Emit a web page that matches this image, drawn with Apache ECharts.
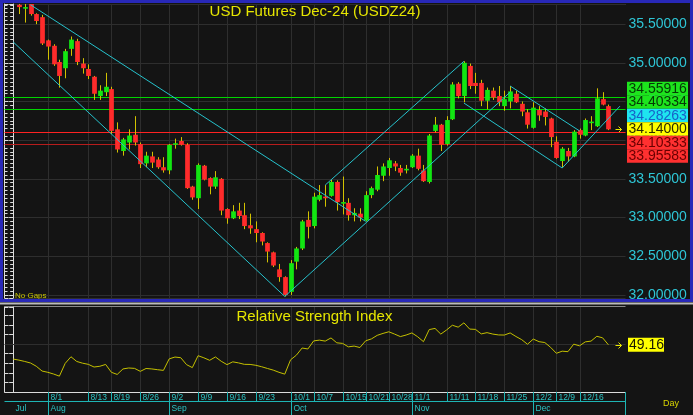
<!DOCTYPE html>
<html>
<head>
<meta charset="utf-8">
<title>USD Futures Dec-24 (USDZ24)</title>
<script src="https://cdn.jsdelivr.net/npm/echarts@6.0.0/dist/echarts.min.js"></script>
<style>
html,body{margin:0;padding:0;background:#141414;overflow:hidden;}
#chart{width:693px;height:415px;}
</style>
</head>
<body>
<div id="chart"></div>
<script>
// ---------------- DATA ----------------
// daily bars 1..103 (bar 0 lies above the visible range)
const opens = [
35.75,35.715,35.76,35.63,35.59,35.29,35.22,35.01,34.93,35.18,
35.28,34.99,34.92,34.82,34.57,34.62,34.66,34.14,33.86,33.97,
34.07,33.95,33.70,33.79,33.75,33.65,33.61,33.95,33.99,33.94,
33.40,33.25,33.67,33.51,33.40,33.50,33.11,32.99,33.09,33.03,
32.90,32.85,32.80,32.67,32.55,32.33,32.23,32.04,32.43,32.60,
32.97,32.89,33.23,33.27,33.28,33.46,33.19,33.19,33.03,33.05,
32.96,33.29,33.36,33.54,33.64,33.70,33.64,33.62,33.65,33.80,
33.61,33.46,34.12,34.20,33.95,34.27,34.73,34.57,34.96,34.74,
34.74,34.51,34.64,34.57,34.44,34.50,34.60,34.47,34.36,34.16,
34.39,34.37,34.28,33.98,33.73,33.86,33.79,34.13,34.06,34.23,
34.18,34.53,34.44];
const closes = [
35.72,35.72,35.63,35.54,35.25,35.21,34.98,34.83,35.15,35.30,
35.01,34.93,34.83,34.60,34.64,34.69,34.12,33.88,34.01,34.06,
33.97,33.69,33.80,33.71,33.65,33.61,33.94,33.96,33.94,33.38,
33.26,33.68,33.49,33.40,33.52,33.09,32.99,33.08,33.02,32.89,
32.86,32.80,32.69,32.56,32.38,32.23,32.00,32.41,32.60,32.95,
32.88,33.27,33.29,33.25,33.46,33.20,33.20,33.03,33.06,33.00,
33.29,33.38,33.55,33.66,33.74,33.66,33.58,33.63,33.80,33.63,
33.47,34.06,34.20,33.94,34.26,34.72,34.57,35.00,34.70,34.70,
34.51,34.65,34.55,34.49,34.53,34.63,34.49,34.37,34.20,34.42,
34.32,34.30,34.04,33.77,33.89,33.79,34.11,34.07,34.26,34.24,
34.54,34.46,34.14];
const highs = [
35.76,35.76,35.76,35.64,35.62,35.30,35.24,35.04,35.18,35.34,
35.31,35.06,34.98,34.83,34.71,34.87,34.69,34.23,34.03,34.14,
34.31,33.97,33.85,33.85,33.78,33.78,33.95,34.02,34.04,33.96,
33.41,33.70,33.68,33.52,33.60,33.51,33.12,33.16,33.19,33.19,
33.05,32.95,32.81,32.68,32.56,32.40,32.24,32.45,32.62,32.97,
33.08,33.32,33.42,33.42,33.49,33.48,33.53,33.25,33.12,33.12,
33.34,33.40,33.66,33.70,33.77,33.73,33.68,33.68,33.82,33.89,
33.68,34.08,34.30,34.21,34.31,34.75,34.75,35.02,34.99,34.87,
34.78,34.68,34.68,34.70,34.64,34.70,34.64,34.50,34.40,34.49,
34.44,34.41,34.29,34.05,33.91,33.90,34.13,34.15,34.28,34.31,
34.67,34.62,34.46];
const lows = [
35.63,35.52,35.61,35.50,35.23,35.04,34.96,34.68,34.80,35.09,
34.97,34.86,34.79,34.52,34.52,34.57,34.08,33.84,33.80,33.88,
33.93,33.64,33.65,33.64,33.63,33.58,33.56,33.89,33.93,33.37,
33.23,33.11,33.48,33.30,33.37,33.03,32.92,32.98,32.98,32.85,
32.79,32.68,32.64,32.42,32.36,32.17,31.98,32.00,32.33,32.58,
32.73,32.86,33.21,33.14,33.27,33.09,33.04,32.96,32.95,32.95,
32.95,33.25,33.34,33.47,33.54,33.60,33.54,33.57,33.64,33.61,
33.46,33.44,34.10,33.86,33.93,34.26,34.54,34.49,34.66,34.60,
34.44,34.40,34.52,34.44,34.38,34.41,34.48,34.31,34.15,34.15,
34.25,34.19,33.91,33.76,33.65,33.72,33.78,34.02,34.05,34.13,
34.17,34.45,34.13];
// RSI for bars 0..103
const rsiValues = [
34.3,33.2,31.8,30.2,26.8,21.8,20.5,18.7,16.5,29.8,
36.7,31.8,30.0,28.8,26.0,26.8,28.7,20.5,18.3,24.0,
25.0,24.6,21.5,24.5,24.0,23.2,22.5,34.5,36.4,35.7,
28.5,25.4,37.8,35.6,33.0,36.5,32.0,28.5,31.4,30.3,
28.8,28.7,27.8,26.3,24.5,22.8,20.5,18.6,33.5,38.3,
45.8,44.8,53.2,54.0,53.0,56.3,51.2,50.6,47.0,47.8,
46.3,53.3,55.3,59.0,61.0,62.7,60.3,57.7,59.3,61.5,
57.5,52.4,65.0,66.2,60.3,64.6,69.5,67.5,72.0,65.5,
65.2,60.5,61.8,60.3,59.4,59.3,61.5,57.8,54.5,49.7,
55.1,52.4,51.5,46.5,40.3,42.5,42.0,49.8,48.1,52.2,
53.0,58.0,56.4,49.16];
// drawn price levels (value, kind)
const levelValues = [34.55916, 34.40334, 34.28263, 34.14000, 34.10333, 33.95583];
const levelKinds  = ['green', 'green', 'cyan', 'last', 'red', 'darkred'];
// trend lines: [bar, price] end points
const trendLines = [
  [[3, 35.75], [61, 32.95]],
  [[0, 35.27], [47, 31.98]],
  [[47, 31.98], [86, 34.62]],
  [[54, 33.42], [78, 35.02]],
  [[86, 34.70], [98, 34.12]],
  [[78, 34.48], [95, 33.64]],
  [[95, 33.64], [105, 34.44]]
];
// date axis
const dayLabels = ['8/1','8/13','8/19','8/26','9/2','9/9','9/16','9/23','10/1','10/7','10/15','10/21','10/28','11/1','11/11','11/18','11/25','12/2','12/9','12/16'];
const dayLabelBars = [6,13,17,22,27,32,37,42,48,52,57,61,65,69,75,80,85,90,94,98];
const monthLabels = ['Jul','Aug','Sep','Oct','Nov','Dec'];
const monthLabelBars = [0,6,27,48,69,90];

// ---------------- LAYOUT / STYLE ----------------
const FONT = '"Liberation Sans", Arial, Helvetica, sans-serif';
const X_MIN = -1.5, X_MAX = 105.96;
const Y_MIN = 31.96, Y_MAX = 35.76;
const BOX_H = 13.5;
const LEVEL_STYLE = {
  green:   {line: '#00d400', box: '#1de41d', text: '#063806'},
  cyan:    {line: null,      box: '#1ee4f0', text: '#1860c8'},
  last:    {line: null,      box: '#ffff00', text: '#2a2a00', arrow: true},
  red:     {line: '#ff2222', box: '#ff3030', text: '#6a0000'},
  darkred: {line: '#b81c1c', box: '#ff3030', text: '#6a0000'}
};

function spread(ys, h) {
  let groups = ys.map(y => ({n: 1, sum: y, start: y - h / 2}));
  let merged = true;
  while (merged) {
    merged = false;
    for (let i = 0; i < groups.length - 1; i++) {
      const a = groups[i], b = groups[i + 1];
      if (a.start + a.n * h > b.start) {
        const n = a.n + b.n, sum = a.sum + b.sum;
        groups.splice(i, 2, {n, sum, start: sum / n - n * h / 2});
        merged = true;
        break;
      }
    }
  }
  const out = [];
  groups.forEach(g => { for (let k = 0; k < g.n; k++) out.push(g.start + h * k + h / 2); });
  return out;
}

function arrow(x1, y, color) {
  return [
    {type: 'polyline', shape: {points: [[x1 - 6, y], [x1, y]]}, style: {stroke: color, lineWidth: 1, fill: null}},
    {type: 'polyline', shape: {points: [[x1 - 3, y - 3], [x1, y], [x1 - 3, y + 3]]}, style: {stroke: color, lineWidth: 1, fill: null}}
  ];
}

const candleData = opens.map((o, i) => [i + 1, o, closes[i], lows[i], highs[i]]);
const rsiData = rsiValues.map((v, i) => [i, v]);

const chart = echarts.init(document.getElementById('chart'), null, {renderer: 'canvas', width: 693, height: 415});

const axisWhite = '#dcdcdc';
const gridColor = '#2e2e2e';

const option = {
  backgroundColor: '#141414',
  animation: false,
  grid: [
    {left: 4.5, top: 4, width: 621, height: 294, containLabel: false, outerBoundsMode: 'none', show: false},
    {left: 4.5, top: 307, width: 621, height: 85, containLabel: false, outerBoundsMode: 'none', show: false}
  ],
  xAxis: [
    {type: 'value', gridIndex: 0, min: X_MIN, max: X_MAX, show: false},
    {type: 'value', gridIndex: 1, min: X_MIN, max: X_MAX, show: false}
  ],
  yAxis: [
    {
      type: 'value', gridIndex: 0, position: 'right', min: Y_MIN, max: Y_MAX, splitNumber: 8,
      axisLine: {show: true, lineStyle: {color: axisWhite, width: 1}},
      axisTick: {show: true, inside: true, length: 4, lineStyle: {color: axisWhite}},
      minorTick: {show: true, splitNumber: 10, length: 3, lineStyle: {color: axisWhite}},
      splitLine: {show: true, lineStyle: {color: gridColor, width: 1}},
      axisLabel: {
        show: true, margin: 3, color: '#2ec6d6', fontSize: 14, fontFamily: FONT,
        formatter: v => (Math.abs(v * 2 - Math.round(v * 2)) < 1e-6 ? v.toFixed(5) : '')
      }
    },
    {
      type: 'value', gridIndex: 0, position: 'left', min: Y_MIN, max: Y_MAX, splitNumber: 8,
      axisLine: {show: true, lineStyle: {color: axisWhite, width: 1}},
      axisTick: {show: true, inside: true, length: 4, lineStyle: {color: axisWhite}},
      minorTick: {show: true, splitNumber: 10, length: 3, lineStyle: {color: axisWhite}},
      splitLine: {show: false}, axisLabel: {show: false}
    },
    {
      type: 'value', gridIndex: 1, position: 'right', min: 0, max: 88.5, interval: 10,
      axisLine: {show: true, lineStyle: {color: axisWhite}},
      axisTick: {show: true, inside: true, length: 4, lineStyle: {color: axisWhite}},
      splitLine: {show: false}, axisLabel: {show: false}
    },
    {
      type: 'value', gridIndex: 1, position: 'left', min: 0, max: 88.5, interval: 10,
      axisLine: {show: true, lineStyle: {color: axisWhite}},
      axisTick: {show: true, inside: true, length: 4, lineStyle: {color: axisWhite}},
      splitLine: {show: false}, axisLabel: {show: false}
    }
  ],
  series: [
    // vertical grid lines (main)
    {
      type: 'custom', xAxisIndex: 0, yAxisIndex: 0, z: 1, silent: true,
      data: dayLabelBars.map(b => [b, Y_MIN]),
      renderItem: (params, api) => {
        const cs = params.coordSys;
        const x = Math.round(api.coord([api.value(0), Y_MIN])[0]) + 0.5;
        return {type: 'line', shape: {x1: x, y1: cs.y, x2: x, y2: cs.y + cs.height}, style: {stroke: gridColor, lineWidth: 1}};
      }
    },
    // vertical grid lines (RSI)
    {
      type: 'custom', xAxisIndex: 1, yAxisIndex: 2, z: 1, silent: true,
      data: dayLabelBars.map(b => [b, 0]),
      renderItem: (params, api) => {
        const cs = params.coordSys;
        const x = Math.round(api.coord([api.value(0), 0])[0]) + 0.5;
        return {type: 'line', shape: {x1: x, y1: cs.y, x2: x, y2: cs.y + cs.height}, style: {stroke: gridColor, lineWidth: 1}};
      }
    },
    // price levels + right-hand boxes
    {
      type: 'custom', xAxisIndex: 0, yAxisIndex: 0, z: 3, silent: true,
      data: levelValues.map(v => [X_MIN, v]),
      renderItem: (params, api) => {
        const cs = params.coordSys;
        const idx = params.dataIndex;
        const ys = levelValues.map(v => api.coord([X_MIN, v])[1]);
        const centers = spread(ys, BOX_H);
        const st = LEVEL_STYLE[levelKinds[idx]];
        const y = Math.round(ys[idx]) + 0.5;
        const children = [];
        if (st.line) {
          children.push({type: 'line', shape: {x1: cs.x, y1: y, x2: cs.x + cs.width, y2: y}, style: {stroke: st.line, lineWidth: 1}});
        }
        const cy = centers[idx] + 0.8;
        const bx = cs.x + cs.width + 1.5;
        children.push({type: 'rect', shape: {x: bx, y: cy - BOX_H / 2, width: 61, height: BOX_H}, style: {fill: st.box}});
        children.push({type: 'text', style: {x: bx + 1.5, y: cy + 0.5, text: levelValues[idx].toFixed(5), fill: st.text, font: '14px ' + FONT, align: 'left', verticalAlign: 'middle'}});
        if (st.arrow) {
          arrow(cs.x + cs.width - 4, Math.round(cy) + 0.5, '#e8e800').forEach(c => children.push(c));
        }
        return {type: 'group', children};
      }
    },
    // candles
    {
      type: 'custom', xAxisIndex: 0, yAxisIndex: 0, z: 5, silent: true,
      data: candleData,
      encode: {x: 0, y: [1, 2, 3, 4]},
      renderItem: (params, api) => {
        const x = api.value(0), o = api.value(1), c = api.value(2), l = api.value(3), h = api.value(4);
        const pO = api.coord([x, o]), pC = api.coord([x, c]), pL = api.coord([x, l]), pH = api.coord([x, h]);
        const bw = api.size([1, 0])[0] * 0.82;
        const up = c >= o;
        const top = Math.min(pO[1], pC[1]);
        const bot = Math.max(pO[1], pC[1]);
        const xc = Math.round(pO[0]) + 0.5;
        return {type: 'group', children: [
          {type: 'line', shape: {x1: xc, y1: pH[1], x2: xc, y2: pL[1]}, style: {stroke: '#d2c200', lineWidth: 1}},
          {type: 'rect', shape: {x: xc - bw / 2, y: top, width: bw, height: Math.max(bot - top, 1.6)}, style: {fill: up ? '#12e612' : '#ff2b2b'}}
        ]};
      }
    },
    // trend lines
    ...trendLines.map(seg => ({
      type: 'line', xAxisIndex: 0, yAxisIndex: 0, z: 6, silent: true,
      data: seg, symbol: 'none', showSymbol: false,
      lineStyle: {color: '#26c2cc', width: 1}
    })),
    // RSI
    {
      type: 'line', xAxisIndex: 1, yAxisIndex: 2, z: 4, silent: true,
      data: rsiData, symbol: 'none', showSymbol: false,
      lineStyle: {color: '#c4c000', width: 1},
      markLine: {
        silent: true, symbol: 'none', label: {show: false}, z: 1,
        lineStyle: {color: gridColor, type: 'solid', width: 1},
        data: [{yAxis: 50}]
      }
    },
    // RSI last value box
    {
      type: 'custom', xAxisIndex: 1, yAxisIndex: 2, z: 6, silent: true,
      data: [[rsiData.length - 1, rsiValues[rsiValues.length - 1]]],
      renderItem: (params, api) => {
        const cs = params.coordSys;
        const cy = api.coord([api.value(0), api.value(1)])[1];
        const bx = cs.x + cs.width + 2.5;
        return {type: 'group', children: [
          {type: 'rect', shape: {x: bx, y: cy - 7, width: 36, height: 14}, style: {fill: '#ffff00'}},
          {type: 'text', style: {x: bx + 1, y: cy + 0.5, text: api.value(1).toFixed(2), fill: '#1a1a00', font: '14px ' + FONT, align: 'left', verticalAlign: 'middle'}},
          ...arrow(cs.x + cs.width - 4, Math.round(cy) + 0.5, '#e8e800')
        ]};
      }
    },
    // date strip: day labels
    {
      type: 'custom', xAxisIndex: 1, yAxisIndex: 2, z: 6, silent: true,
      data: dayLabelBars.map(b => [b, 0]),
      renderItem: (params, api) => {
        const cs = params.coordSys;
        const x = Math.round(api.coord([api.value(0), 0])[0]) + 0.5;
        const yb = cs.y + cs.height;
        return {type: 'group', children: [
          {type: 'line', shape: {x1: x, y1: yb, x2: x, y2: yb + 10}, style: {stroke: '#1eb4b4', lineWidth: 1}},
          {type: 'text', style: {x: x + 2, y: yb + 6, text: dayLabels[params.dataIndex], fill: '#2cc4c4', font: '8.5px ' + FONT, align: 'left', verticalAlign: 'middle'}}
        ]};
      }
    },
    // date strip: month labels
    {
      type: 'custom', xAxisIndex: 1, yAxisIndex: 2, z: 6, silent: true,
      data: monthLabelBars.map(b => [b, 0]),
      renderItem: (params, api) => {
        const cs = params.coordSys;
        const x = Math.round(api.coord([api.value(0), 0])[0]) + 0.5;
        const yb = cs.y + cs.height;
        const children = [];
        if (api.value(0) > 0) {
          children.push({type: 'line', shape: {x1: x, y1: yb, x2: x, y2: 415}, style: {stroke: '#1eb4b4', lineWidth: 1}});
        }
        children.push({type: 'text', style: {x: x + 2, y: yb + 16.5, text: monthLabels[params.dataIndex], fill: '#2cc4c4', font: '8.5px ' + FONT, align: 'left', verticalAlign: 'middle'}});
        return {type: 'group', children};
      }
    }
  ],
  graphic: [
    {type: 'rect', silent: true, z: 100, shape: {x: 1.5, y: 1.5, width: 690, height: 299}, style: {fill: null, stroke: '#2828b8', lineWidth: 3}},
    {type: 'line', silent: true, shape: {x1: 0, y1: 303.5, x2: 693, y2: 303.5}, style: {stroke: '#bcbcbc', lineWidth: 2}},
    {type: 'line', silent: true, shape: {x1: 4.5, y1: 4.5, x2: 625.5, y2: 4.5}, style: {stroke: '#555555', lineWidth: 1}},
    {type: 'line', silent: true, shape: {x1: 4.5, y1: 306.5, x2: 625.5, y2: 306.5}, style: {stroke: '#8a8a8a', lineWidth: 1}},
    {type: 'line', silent: true, shape: {x1: 4.5, y1: 392.5, x2: 625.5, y2: 392.5}, style: {stroke: '#dcdcdc', lineWidth: 1}},
    {type: 'line', silent: true, shape: {x1: 4.5, y1: 401.5, x2: 625.5, y2: 401.5}, style: {stroke: '#1eb4b4', lineWidth: 1}},
    {type: 'line', silent: true, shape: {x1: 625.5, y1: 392, x2: 625.5, y2: 415}, style: {stroke: '#1eb4b4', lineWidth: 1}},
    {type: 'text', silent: true, z: 50, x: 315, y: 12, style: {text: 'USD Futures Dec-24 (USDZ24)', fill: '#e6e600', font: '15px ' + FONT, align: 'center', verticalAlign: 'middle'}},
    {type: 'text', silent: true, z: 50, x: 314.5, y: 317, style: {text: 'Relative Strength Index', fill: '#e6e600', font: '15px ' + FONT, align: 'center', verticalAlign: 'middle'}},
    {type: 'text', silent: true, z: 50, x: 15, y: 296, style: {text: 'No Gaps', fill: '#c8c400', font: '8px ' + FONT, align: 'left', verticalAlign: 'middle'}},
    {type: 'text', silent: true, z: 50, x: 663, y: 403.5, style: {text: 'Day', fill: '#d8d400', font: '9px ' + FONT, align: 'left', verticalAlign: 'middle'}}
  ]
};

chart.setOption(option);
</script>
</body>
</html>
